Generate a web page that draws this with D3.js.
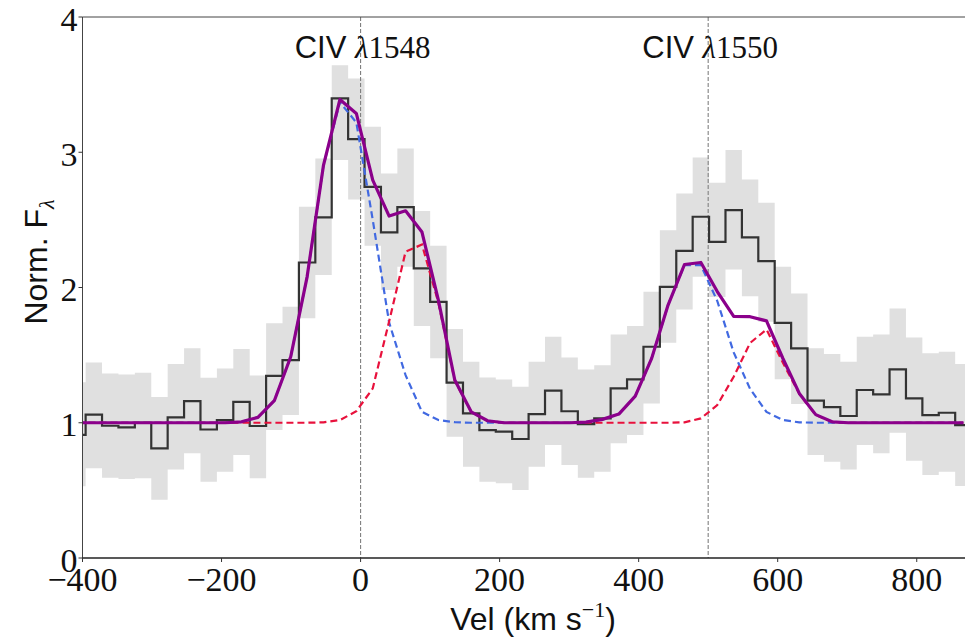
<!DOCTYPE html>
<html><head><meta charset="utf-8">
<script src="https://cdn.jsdelivr.net/npm/d3@7"></script>
<style>body{margin:0;background:#fff}svg{display:block}</style>
</head><body>
<svg id="chart" width="965" height="639"></svg>
<script>
// bin centres (km/s)
const velocity = [-407.3,-383.7,-360.1,-336.5,-312.9,-289.3,-265.7,-242.1,-218.5,-194.9,
  -171.3,-147.7,-124.1,-100.5,-76.9,-53.3,-29.7,-6.1,17.5,41.1,
  64.7,88.3,111.9,135.5,159.1,182.7,206.3,229.9,253.5,277.1,
  300.7,324.3,347.9,371.5,395.1,418.7,442.3,465.9,489.5,513.1,
  536.7,560.3,583.9,607.5,631.1,654.7,678.3,701.9,725.5,749.1,
  772.7,796.3,819.9,843.5,867.1];
const flux = [0.91,1.06,0.978,0.966,1.0,0.81,1.04,1.16,0.95,1.02,
  1.155,0.976,1.347,1.463,2.185,2.518,3.398,3.097,2.744,2.407,
  2.595,2.141,1.894,1.296,1.069,0.946,0.934,0.88,1.064,1.237,
  1.085,0.99,1.032,1.254,1.321,1.562,2.005,2.271,2.523,2.338,
  2.572,2.37,2.195,1.739,1.55,1.163,1.116,1.05,1.242,1.21,
  1.394,1.18,1.057,1.074,0.983];
const fluxLow = [0.53,0.663,0.594,0.584,0.589,0.43,0.655,0.774,0.564,0.638,
  0.761,0.589,0.946,1.057,1.772,2.092,2.942,2.651,2.308,1.981,
  2.153,1.715,1.476,0.897,0.675,0.564,0.552,0.503,0.675,0.835,
  0.687,0.594,0.638,0.848,0.909,1.143,1.591,1.838,2.079,1.93,
  2.134,1.936,1.747,1.321,1.138,0.761,0.712,0.655,0.835,0.774,
  0.926,0.719,0.613,0.638,0.532];
const fluxHigh = [1.30,1.446,1.365,1.357,1.37,1.19,1.434,1.55,1.333,1.402,
  1.545,1.35,1.735,1.857,2.597,2.954,3.644,3.545,3.188,2.843,
  3.028,2.565,2.308,1.693,1.451,1.335,1.32,1.266,1.451,1.636,
  1.483,1.394,1.426,1.653,1.715,1.968,2.424,2.695,2.961,2.774,
  3.016,2.799,2.626,2.153,1.956,1.55,1.508,1.451,1.636,1.653,
  1.845,1.631,1.513,1.525,1.434];
const modelBlue = [1,1,1,1,1,1,1,1,1,1,
  1.007,1.04,1.163,1.488,2.079,2.905,3.37,3.22,2.50,1.74,
  1.352,1.081,1.02,1.004,1,1,1,1,1,1,
  1,1.005,1.025,1.064,1.197,1.476,1.87,2.166,2.165,1.90,
  1.52,1.25,1.08,1.02,1.003,1,1,1,1,1,
  1,1,1,1,1];
const modelRed = [1,1,1,1,1,1,1,1,1,1,
  1,1,1,1,1,1.003,1.02,1.085,1.254,1.75,
  2.264,2.318,1.887,1.312,1.08,1.015,1,1,1,1,
  1,1,1,1,1,1,1,1.003,1.032,1.131,
  1.34,1.59,1.69,1.443,1.214,1.057,1.007,1,1,1,
  1,1,1,1,1];
const modelTotal = [1,1,1,1,1,1,1,1,1,1,
  1.007,1.04,1.163,1.488,2.079,2.905,3.39,3.287,2.794,2.528,
  2.567,2.41,1.907,1.316,1.081,1.015,1,1,1,1,
  1,1.005,1.025,1.064,1.197,1.476,1.87,2.17,2.185,1.97,
  1.786,1.784,1.753,1.475,1.217,1.06,1.007,1,1,1,
  1,1,1,1,1];
const xTicks = [-400,-200,0,200,400,600,800];
const yTicks = [0,1,2,3,4];
const lineVelocities = [0,500];
const lineIons = ["CIV","CIV"];
const lineWaves = ["1548","1550"];

const svg = d3.select("#chart");
const L = 82.5, R = 965.4, T = 17, B = 558;
const x = d3.scaleLinear().domain([-400,870]).range([L,R]);
const y = d3.scaleLinear().domain([0,4]).range([B,T]);

svg.append("defs").append("clipPath").attr("id","clip")
  .append("rect").attr("x",L).attr("y",T).attr("width",R-L+10).attr("height",B-T);
const g = svg.append("g").attr("clip-path","url(#clip)");

const w = velocity[1]-velocity[0];
const n = velocity.length;
const stepPts = velocity.map((v,i)=>({v, f:flux[i], lo:fluxLow[i], hi:fluxHigh[i]}));
stepPts.unshift({v:velocity[0]-w/2, f:flux[0], lo:fluxLow[0], hi:fluxHigh[0]});
stepPts.push({v:velocity[n-1]+w/2, f:flux[n-1], lo:fluxLow[n-1], hi:fluxHigh[n-1]});

g.append("path").datum(stepPts)
  .attr("d", d3.area().curve(d3.curveStep).x(d=>x(d.v)).y0(d=>y(d.lo)).y1(d=>y(d.hi)))
  .attr("fill","#e0e0e0").attr("stroke","none");

g.selectAll("line.vl").data(lineVelocities).join("line").attr("class","vl")
  .attr("x1",d=>x(d)).attr("x2",d=>x(d)).attr("y1",T).attr("y2",B)
  .attr("stroke","#808080").attr("stroke-width",1.1).attr("stroke-dasharray","4,2");

g.append("path").datum(stepPts)
  .attr("d", d3.line().curve(d3.curveStep).x(d=>x(d.v)).y(d=>y(d.f)))
  .attr("fill","none").attr("stroke","#333").attr("stroke-width",2.2);

const mline = arr => d3.line().x((d,i)=>x(velocity[i])).y(d=>y(d))(arr);
g.append("path").attr("d", mline(modelBlue)).attr("fill","none")
  .attr("stroke","#4169e1").attr("stroke-width",2.2).attr("stroke-dasharray","7,4");
g.append("path").attr("d", mline(modelRed)).attr("fill","none")
  .attr("stroke","#e8113c").attr("stroke-width",2.2).attr("stroke-dasharray","7,4");
g.append("path").attr("d", mline(modelTotal)).attr("fill","none")
  .attr("stroke","#8b008b").attr("stroke-width",3.2).attr("stroke-linejoin","round");

// spines
svg.append("line").attr("x1",L).attr("x2",L).attr("y1",T).attr("y2",B).attr("stroke","#444").attr("stroke-width",1);
svg.append("line").attr("x1",L).attr("x2",R+5).attr("y1",T).attr("y2",T).attr("stroke","#444").attr("stroke-width",1);
svg.append("line").attr("x1",L).attr("x2",R+5).attr("y1",B).attr("y2",B).attr("stroke","#222").attr("stroke-width",1.3);

const serif = "'Liberation Serif','Times New Roman',serif";
const sans = "'Liberation Sans',Arial,sans-serif";

// x ticks
const xa = svg.append("g");
xa.selectAll("line").data(xTicks).join("line")
  .attr("x1",d=>x(d)).attr("x2",d=>x(d)).attr("y1",B).attr("y2",B+4)
  .attr("stroke","#333").attr("stroke-width",1);
xa.selectAll("text").data(xTicks).join("text")
  .attr("x",d=>x(d)).attr("y",B+33).attr("text-anchor","middle")
  .attr("font-family",serif).attr("font-size",34).attr("fill","#111")
  .text(d=>d3.format("")(d));

// y ticks
const ya = svg.append("g");
ya.selectAll("line").data(yTicks).join("line")
  .attr("x1",L-4).attr("x2",L).attr("y1",d=>y(d)).attr("y2",d=>y(d))
  .attr("stroke","#333").attr("stroke-width",1);
ya.selectAll("text").data(yTicks).join("text")
  .attr("x",L-5).attr("y",d=>y(d)+13.5).attr("text-anchor","end")
  .attr("font-family",serif).attr("font-size",34).attr("fill","#111")
  .text(d=>d);

// line labels
lineVelocities.forEach((v,i)=>{
  const t = svg.append("text").attr("x",x(v)+2).attr("y",58).attr("text-anchor","middle")
    .attr("font-size",31).attr("fill","#111");
  t.append("tspan").attr("font-family",sans).text(lineIons[i]+" ");
  t.append("tspan").attr("font-family",serif).attr("font-style","italic").text("λ");
  t.append("tspan").attr("font-family",serif).text(lineWaves[i]);
});

// axis labels
const xl = svg.append("text").attr("x",533).attr("y",630).attr("text-anchor","middle")
  .attr("font-family",sans).attr("font-size",32).attr("fill","#111");
xl.append("tspan").text("Vel (km s");
xl.append("tspan").attr("font-family",serif).attr("font-size",22).attr("dy",-13).text("−1");
xl.append("tspan").attr("dy",13).text(")");

const yl = svg.append("text").attr("transform","translate(47,"+262+") rotate(-90)")
  .attr("text-anchor","middle").attr("font-family",sans).attr("font-size",32).attr("fill","#111");
yl.append("tspan").text("Norm. F");
yl.append("tspan").attr("font-family",serif).attr("font-style","italic").attr("font-size",22).attr("dy",7).text("λ");
</script>
</body></html>
